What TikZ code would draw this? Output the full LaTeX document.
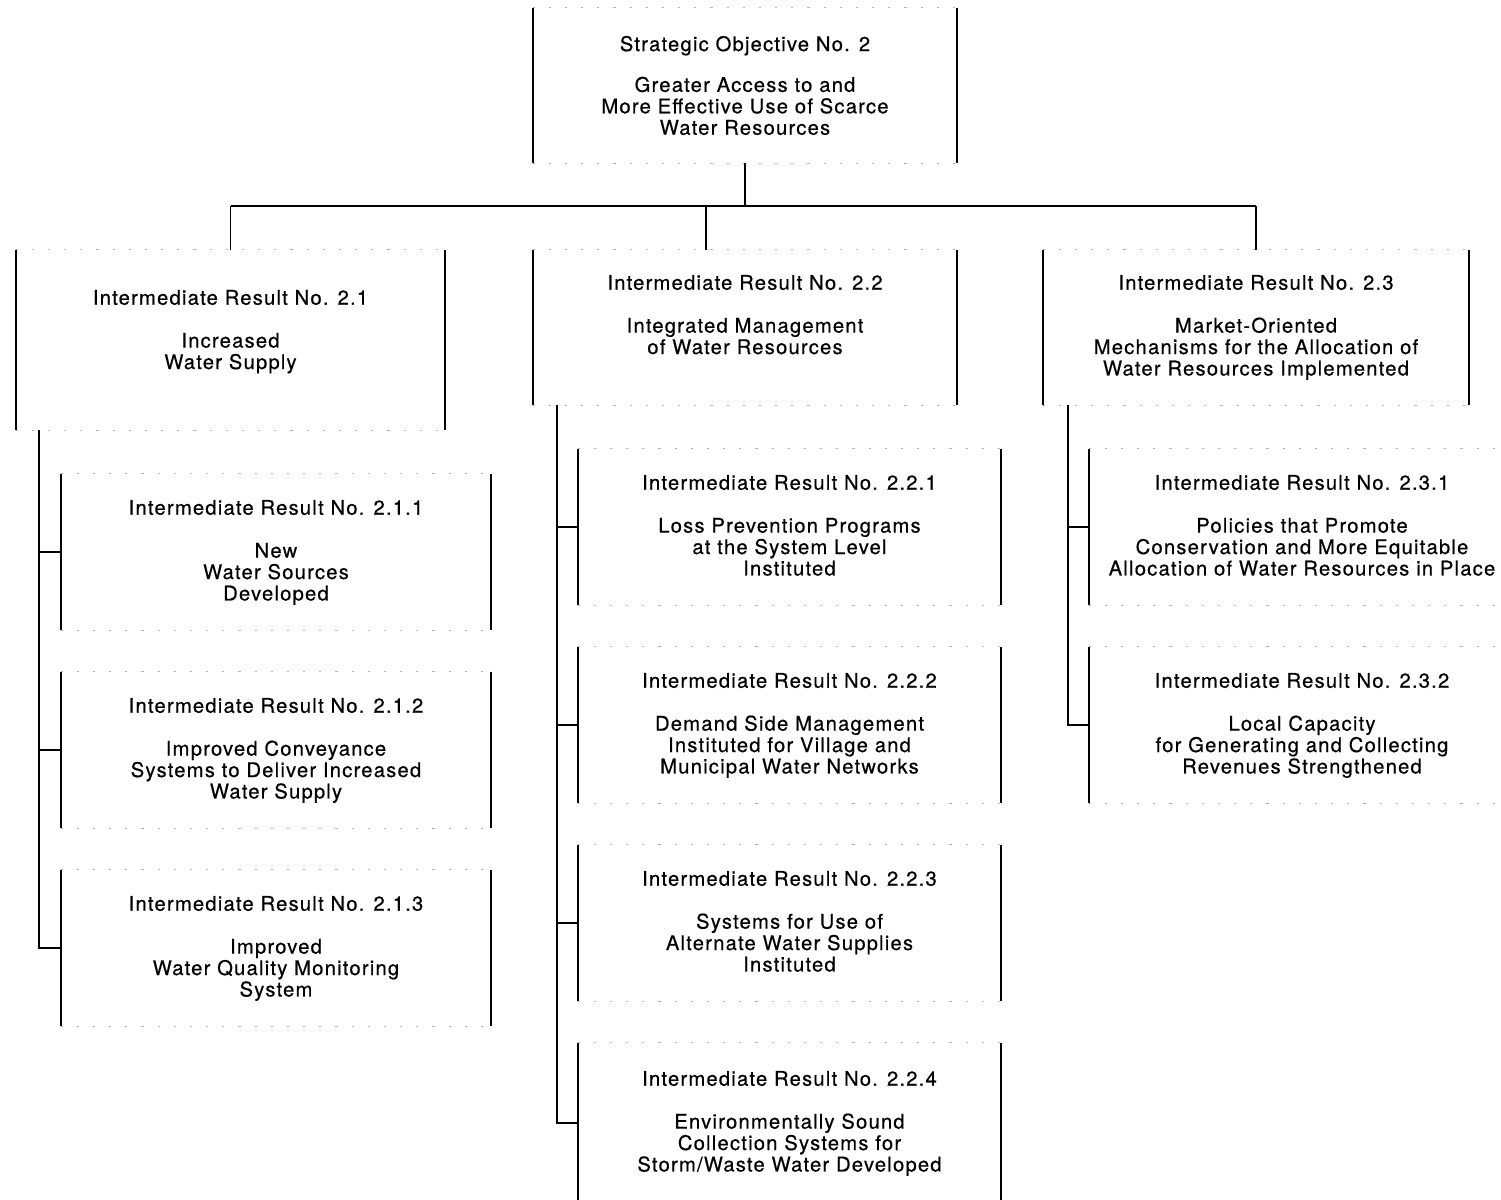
\documentclass[tikz,border=0pt]{standalone}
\usepackage{fontspec}
\setmainfont{TeX Gyre Heros}[LetterSpace=6, FakeBold=0.5]
\usetikzlibrary{positioning, fit}
\tikzset{
  box/.style={inner sep=0pt},
  txt/.style={align=center, inner sep=0pt, anchor=north, font=\fontsize{11.5pt}{12.2pt}\selectfont},
  side/.style={line width=1.1pt},
  rim/.style={line width=0.5pt, black!30, dash pattern=on 1.2pt off 8pt},
  link/.style={line width=1.1pt},
}
\begin{document}
\begin{tikzpicture}[x=0.02cm, y=-0.02cm]
  \useasboundingbox (0,0) rectangle (1501,1200);
  \clip (0,0) rectangle (1501,1200);
  % boxes
  \node[box, fit={(533,8)(957,163)}] (so) {};
  \node[box, fit={(16,250)(445,430)}] (r21) {};
  \node[box, fit={(533,250)(957,405)}] (r22) {};
  \node[box, fit={(1043,250)(1469,405)}] (r23) {};
  \node[box, fit={(61,474)(491,630)}] (r211) {};
  \node[box, fit={(61,672)(491,828)}] (r212) {};
  \node[box, fit={(61,870)(491,1026)}] (r213) {};
  \node[box, fit={(578,449)(1001,605)}] (r221) {};
  \node[box, fit={(578,647)(1001,803)}] (r222) {};
  \node[box, fit={(578,845)(1001,1001)}] (r223) {};
  \node[box, fit={(578,1043)(1001,1203)}] (r224) {};
  \node[box, fit={(1089,449)(1515,605)}] (r231) {};
  \node[box, fit={(1089,647)(1515,803)}] (r232) {};
  \foreach \b in {so,r21,r22,r23,r211,r212,r213,r221,r222,r223,r224,r231,r232} {
    \draw[side] (\b.north west) -- (\b.south west) (\b.north east) -- (\b.south east);
    \draw[rim] (\b.north west) -- (\b.north east) (\b.south west) -- (\b.south east);
  }
  % texts
  \node[txt, below=0.56cm of so.north] (so-t) {Strategic Objective No. 2\\[11pt]
    Greater Access to and\\ More Effective Use of Scarce\\ Water Resources};
  \node[txt, below=0.8cm of r21.north] (r21-t) {Intermediate Result No. 2.1\\[12.2pt]
    Increased\\ Water Supply};
  \node[txt, below=0.5cm of r22.north] (r22-t) {Intermediate Result No. 2.2\\[12.2pt]
    Integrated Management\\ of Water Resources};
  \node[txt, below=0.5cm of r23.north] (r23-t) {Intermediate Result No. 2.3\\[12.2pt]
    Market-Oriented\\ Mechanisms for the Allocation of\\ Water Resources Implemented};
  \node[txt, below=0.52cm of r211.north] (r211-t) {Intermediate Result No. 2.1.1\\[12.2pt]
    New\\ Water Sources\\ Developed};
  \node[txt, below=0.52cm of r212.north] (r212-t) {Intermediate Result No. 2.1.2\\[12.2pt]
    Improved Conveyance\\ Systems to Deliver Increased\\ Water Supply};
  \node[txt, below=0.52cm of r213.north] (r213-t) {Intermediate Result No. 2.1.3\\[12.2pt]
    Improved\\ Water Quality Monitoring\\ System};
  \node[txt, below=0.52cm of r221.north] (r221-t) {Intermediate Result No. 2.2.1\\[12.2pt]
    Loss Prevention Programs\\ at the System Level\\ Instituted};
  \node[txt, below=0.52cm of r222.north] (r222-t) {Intermediate Result No. 2.2.2\\[12.2pt]
    Demand Side Management\\ Instituted for Village and\\ Municipal Water Networks};
  \node[txt, below=0.52cm of r223.north] (r223-t) {Intermediate Result No. 2.2.3\\[12.2pt]
    Systems for Use of\\ Alternate Water Supplies\\ Instituted};
  \node[txt, below=0.56cm of r224.north] (r224-t) {Intermediate Result No. 2.2.4\\[12.2pt]
    Environmentally Sound\\ Collection Systems for\\ Storm/Waste Water Developed};
  \node[txt, below=0.52cm of r231.north] (r231-t) {Intermediate Result No. 2.3.1\\[12.2pt]
    Policies that Promote\\ Conservation and More Equitable\\ Allocation of Water Resources in Place};
  \node[txt, below=0.52cm of r232.north] (r232-t) {Intermediate Result No. 2.3.2\\[12.2pt]
    Local Capacity\\ for Generating and Collecting\\ Revenues Strengthened};
  % connectors
  \coordinate (bar) at (0,206);
  \coordinate (drop) at ([xshift=-0.78cm]r22.north);
  \draw[link] (so.south) -- (so.south |- bar);
  \draw[link] (r21.north |- bar) -- (r23.north |- bar);
  \draw[link] (r21.north) -- (r21.north |- bar);
  \draw[link] (drop) -- (drop |- bar);
  \draw[link] (r23.north) -- (r23.north |- bar);
  \coordinate (s1) at ([xshift=-0.44cm]r211.west);
  \coordinate (s2) at ([xshift=-0.42cm]r221.west);
  \coordinate (s3) at ([xshift=-0.42cm]r231.west);
  \draw[link] (r21.south -| s1) |- (r213.west);
  \draw[link] (r22.south -| s2) |- (r224.west);
  \draw[link] (r23.south -| s3) |- (r232.west);
  \foreach \n in {r211,r212} \draw[link] (\n.west) -- (\n.west -| s1);
  \foreach \n in {r221,r222,r223} \draw[link] (\n.west) -- (\n.west -| s2);
  \draw[link] (r231.west) -- (r231.west -| s3);
\end{tikzpicture}
\end{document}
